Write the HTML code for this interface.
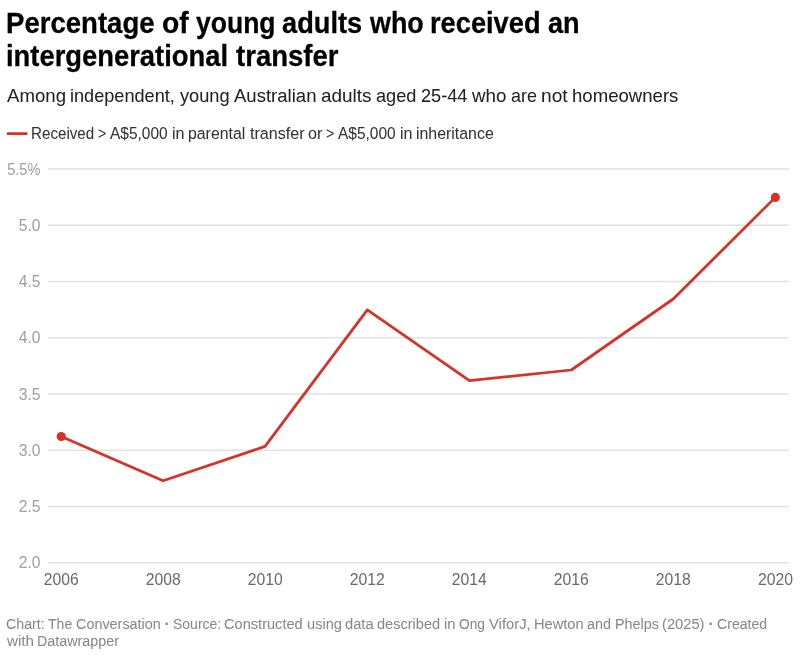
<!DOCTYPE html>
<html lang="en">
<head>
<meta charset="utf-8">
<title>Percentage of young adults who received an intergenerational transfer</title>
<style>
html,body{margin:0;padding:0;background:#fff;}
body{width:800px;height:656px;position:relative;overflow:hidden;font-family:"Liberation Sans",sans-serif;color:#000;}
h1,p{position:absolute;left:0;top:0;margin:0;padding:0;line-height:1;font-weight:400;}
h1 span,p span{position:absolute;white-space:nowrap;transform-origin:0 0;display:block;}
.ttl{font-weight:700;font-size:30px;color:#000;-webkit-text-stroke:0.28px #000;}
.sub{font-size:19px;color:#222;-webkit-text-stroke:0.04px #222;}
.leg{font-size:16.3px;color:#333;-webkit-text-stroke:0.04px #333;}
.foot{font-size:14.9px;color:#888;-webkit-text-stroke:0.04px #888;}
svg{position:absolute;left:0;top:0;}
svg text{font-family:"Liberation Sans",sans-serif;font-size:15.7px;}
.yl{fill:#9e9e9e;text-anchor:end;}
.xl{fill:#6a6a6a;text-anchor:middle;}
</style>
</head>
<body>
<h1 class="ttl"><span style="left:5.9px;top:8px;transform:scaleX(0.9184)">Percentage</span> <span style="left:161.6px;top:8px;transform:scaleX(0.9410)">of</span> <span style="left:195.5px;top:8px;transform:scaleX(0.8837)">young</span> <span style="left:282.2px;top:8px;transform:scaleX(0.9073)">adults</span> <span style="left:369.5px;top:8px;transform:scaleX(0.8953)">who</span> <span style="left:430.4px;top:8px;transform:scaleX(0.9077)">received</span> <span style="left:548.1px;top:8px;transform:scaleX(0.9045)">an</span>
<span style="left:6.3px;top:41px;transform:scaleX(0.9123)">intergenerational</span> <span style="left:235.5px;top:41px;transform:scaleX(0.9183)">transfer</span></h1>
<p class="sub"><span style="left:6.5px;top:86px;transform:scaleX(0.9808)">Among</span> <span style="left:70.1px;top:86px;transform:scaleX(0.9539)">independent,</span> <span style="left:179.5px;top:86px;transform:scaleX(0.9587)">young</span> <span style="left:233.7px;top:86px;transform:scaleX(0.9760)">Australian</span> <span style="left:320.7px;top:86px;transform:scaleX(0.9954)">adults</span> <span style="left:375.7px;top:86px;transform:scaleX(0.9564)">aged</span> <span style="left:420.7px;top:86px;transform:scaleX(0.9547)">25-44</span> <span style="left:471.6px;top:86px;transform:scaleX(0.9879)">who</span> <span style="left:510.6px;top:86px;transform:scaleX(0.9397)">are</span> <span style="left:540.9px;top:86px;transform:scaleX(1.0089)">not</span> <span style="left:572.1px;top:86px;transform:scaleX(0.9779)">homeowners</span></p>
<p class="leg"><span style="left:31.2px;top:125px;transform:scaleX(0.9316)">Received</span> <span style="left:98.3px;top:125px;transform:scaleX(0.8670)">&gt;</span> <span style="left:110.4px;top:125px;transform:scaleX(0.9503)">A$5,000</span> <span style="left:172.0px;top:125px;transform:scaleX(0.9889)">in</span> <span style="left:188.4px;top:125px;transform:scaleX(0.9724)">parental</span> <span style="left:249.5px;top:125px;transform:scaleX(0.9884)">transfer</span> <span style="left:308.0px;top:125px;transform:scaleX(0.9903)">or</span> <span style="left:326.2px;top:125px;transform:scaleX(0.8670)">&gt;</span> <span style="left:338.4px;top:125px;transform:scaleX(0.9500)">A$5,000</span> <span style="left:399.9px;top:125px;transform:scaleX(0.9889)">in</span> <span style="left:416.3px;top:125px;transform:scaleX(0.9761)">inheritance</span></p>
<svg width="800" height="656" viewBox="0 0 800 656">
  <rect x="6.7" y="132.3" width="20.8" height="2.8" rx="1.2" fill="#d6322a"/>
  <g stroke="#e2e2e2" stroke-width="1.4">
    <line x1="48" x2="789" y1="169" y2="169"/>
    <line x1="48" x2="789" y1="225.25" y2="225.25"/>
    <line x1="48" x2="789" y1="281.5" y2="281.5"/>
    <line x1="48" x2="789" y1="337.75" y2="337.75"/>
    <line x1="48" x2="789" y1="394" y2="394"/>
    <line x1="48" x2="789" y1="450.25" y2="450.25"/>
    <line x1="48" x2="789" y1="506.5" y2="506.5"/>
    <line x1="48" x2="789" y1="562.75" y2="562.75"/>
  </g>
  <g class="yl">
    <text x="40.5" y="175" textLength="33.3" lengthAdjust="spacingAndGlyphs">5.5%</text>
    <text x="40.5" y="231" textLength="21.8" lengthAdjust="spacingAndGlyphs">5.0</text>
    <text x="40.5" y="287" textLength="21.8" lengthAdjust="spacingAndGlyphs">4.5</text>
    <text x="40.5" y="343" textLength="21.8" lengthAdjust="spacingAndGlyphs">4.0</text>
    <text x="40.5" y="400" textLength="21.8" lengthAdjust="spacingAndGlyphs">3.5</text>
    <text x="40.5" y="456" textLength="21.8" lengthAdjust="spacingAndGlyphs">3.0</text>
    <text x="40.5" y="512" textLength="21.8" lengthAdjust="spacingAndGlyphs">2.5</text>
    <text x="40.5" y="568" textLength="21.8" lengthAdjust="spacingAndGlyphs">2.0</text>
  </g>
  <g class="xl">
    <text x="61.3" y="585" textLength="35" lengthAdjust="spacingAndGlyphs">2006</text>
    <text x="163.3" y="585" textLength="35" lengthAdjust="spacingAndGlyphs">2008</text>
    <text x="265.3" y="585" textLength="35" lengthAdjust="spacingAndGlyphs">2010</text>
    <text x="367.3" y="585" textLength="35" lengthAdjust="spacingAndGlyphs">2012</text>
    <text x="469.3" y="585" textLength="35" lengthAdjust="spacingAndGlyphs">2014</text>
    <text x="571.3" y="585" textLength="35" lengthAdjust="spacingAndGlyphs">2016</text>
    <text x="673.3" y="585" textLength="35" lengthAdjust="spacingAndGlyphs">2018</text>
    <text x="775.6" y="585" textLength="35" lengthAdjust="spacingAndGlyphs">2020</text>
  </g>
  <polyline fill="none" stroke="#d6322a" stroke-width="2.75" stroke-linejoin="round" stroke-linecap="round"
    points="61.2,436.6 163.1,480.8 265,446.4 367.3,309.9 469.4,380.7 571.3,370 673.2,299 775.3,197.4"/>
  <circle cx="61.2" cy="436.5" r="4.6" fill="#d6322a"/>
  <circle cx="775.3" cy="197.4" r="4.6" fill="#d6322a"/>
</svg>

<p class="foot"><span style="left:6.0px;top:617px;transform:scaleX(0.9534)">Chart:</span> <span style="left:48.0px;top:617px;transform:scaleX(0.9446)">The</span> <span style="left:75.8px;top:617px;transform:scaleX(0.9665)">Conversation</span> <span style="left:165.0px;top:620.3px;font-size:9.3px">•</span> <span style="left:172.6px;top:617px;transform:scaleX(0.9400)">Source:</span> <span style="left:224.4px;top:617px;transform:scaleX(0.9803)">Constructed</span> <span style="left:306.7px;top:617px;transform:scaleX(0.9833)">using</span> <span style="left:345.3px;top:617px;transform:scaleX(0.9865)">data</span> <span style="left:377.4px;top:617px;transform:scaleX(0.9775)">described</span> <span style="left:444.1px;top:617px;transform:scaleX(0.9919)">in</span> <span style="left:459.2px;top:617px;transform:scaleX(0.9245)">Ong</span> <span style="left:488.8px;top:617px;transform:scaleX(0.9937)">ViforJ,</span> <span style="left:534.0px;top:617px;transform:scaleX(0.9824)">Hewton</span> <span style="left:587.2px;top:617px;transform:scaleX(0.9648)">and</span> <span style="left:614.8px;top:617px;transform:scaleX(0.9619)">Phelps</span> <span style="left:662.1px;top:617px;transform:scaleX(0.9862)">(2025)</span> <span style="left:708.9px;top:620.3px;font-size:9.3px">•</span> <span style="left:716.6px;top:617px;transform:scaleX(0.9475)">Created</span>
<span style="left:6.6px;top:634px;transform:scaleX(1.0212)">with</span> <span style="left:37.2px;top:634px;transform:scaleX(0.9617)">Datawrapper</span></p>
</body>
</html>
